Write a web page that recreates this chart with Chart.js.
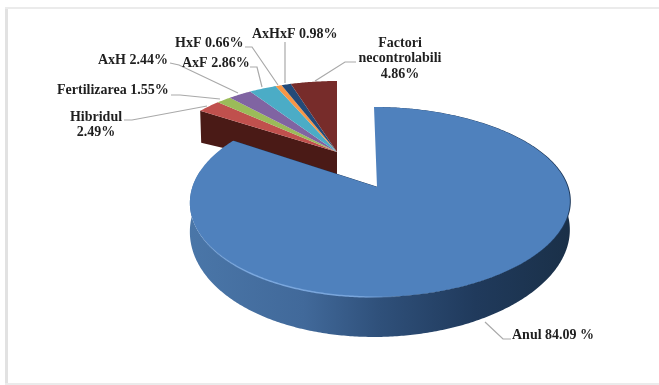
<!DOCTYPE html>
<html><head><meta charset="utf-8">
<style>
html,body{margin:0;padding:0;background:#fff;overflow:hidden}
#wrap{position:relative;width:659px;height:385px}
canvas{display:block}
</style>
<script src="https://cdn.jsdelivr.net/npm/chart.js@4"></script>
</head><body><div id="wrap"><canvas id="c" width="659" height="385"></canvas></div>
<script>
const categories = ['Anul','Hibridul','Fertilizarea','AxH','AxF','HxF','AxHxF','Factori necontrolabili'];
const values = [84.09,2.49,1.55,2.44,2.86,0.66,0.98,4.86];
const sliceColors = ['#4f81bd','#c0504d','#9bbb59','#8064a2','#4bacc6','#f79646','#234a78','#772c2a'];
const labelLines = [['Anul 84.09 %'],['Hibridul','2.49%'],['Fertilizarea 1.55%'],['AxH 2.44%'],['AxF 2.86%'],['HxF 0.66%'],['AxHxF 0.98%'],['Factori','necontrolabili','4.86%']];

// label anchors and leader polylines (annotation layout, not data)
const labelLayout = [
 {x:512,y:335,align:'left',lead:[[485,322],[503,339],[511,339]]},
 {x:96,y:117,align:'center',lead:[[207,106],[132,120],[124,120]]},
 {x:57,y:90,align:'left',lead:[[220,99],[180,95],[171,95]]},
 {x:98,y:60,align:'left',lead:[[238,93],[179,65],[170,63]]},
 {x:182,y:63,align:'left',lead:[[262,87],[257,67],[250,67]]},
 {x:175,y:43,align:'left',lead:[[278,85],[252,47],[245,47]]},
 {x:252,y:34,align:'left',lead:[[285,83],[285,42]]},
 {x:400,y:43,align:'center',lead:[[315,81],[345,62],[356,62]]}
];

// perspective of the tilted pie: apex position, horizontal and vertical spread
const K = -0.158;
const bigPie = {ax:377,ay:187,b:187.6,a:92.6,bulge:3};
const smallPie = {ax:337,ay:152,b:177,a:82.2,bulge:0};

function project(p, ang){
  const u=Math.cos(ang), v=Math.sin(ang), w=1+K*v;
  return [p.ax + p.b*u/w + p.bulge*(1-2*v*v), p.ay + p.a*v/w];
}
function arcPoints(p, s, e){
  const n=Math.max(4,Math.ceil((e-s)/0.01)), pts=[];
  for(let i=0;i<=n;i++) pts.push(project(p, s+(e-s)*i/n));
  return pts;
}
function fillPoly(ctx, pts, fill){
  ctx.beginPath();
  pts.forEach((q,i)=> i?ctx.lineTo(q[0],q[1]):ctx.moveTo(q[0],q[1]));
  ctx.closePath();
  ctx.fillStyle=fill; ctx.fill();
}

const pie3d = {
  id:'pie3d',
  beforeDatasetsDraw(chart){
    const ctx=chart.ctx, arcs=chart.getDatasetMeta(0).data;
    ctx.save();
    // frame
    ctx.fillStyle='#e2e2e2';
    ctx.fillRect(5,7,3,376);
    ctx.fillStyle='#ebebeb';
    ctx.fillRect(5,7,654,2);
    ctx.fillRect(5,383,654,2);

    // side wall of the large slice
    const big=arcs[0];
    const top=arcPoints(bigPie,big.startAngle,big.endAngle);
    const depth=q=>{const t=(q[1]-187)/110; return t>0?27+13*t:27+3*t;};
    const wall=top.filter(q=>q[1]>170);
    const g=ctx.createLinearGradient(190,0,570,0);
    g.addColorStop(0,'#4a76a8');
    g.addColorStop(0.3,'#41699a');
    g.addColorStop(0.5,'#2f507a');
    g.addColorStop(0.75,'#203a5c');
    g.addColorStop(1,'#1a3048');
    fillPoly(ctx, wall.concat(wall.slice().reverse().map(q=>[q[0],q[1]+depth(q)])), g);

    // cut wall of the small group
    const first=arcs[1];
    const corner=project(smallPie,first.startAngle);
    fillPoly(ctx,[[smallPie.ax,smallPie.ay],corner,[corner[0]+1,corner[1]+32],[smallPie.ax,smallPie.ay+23]],'#4a1a16');

    // small slice tops
    for(let i=1;i<arcs.length;i++){
      const el=arcs[i], c=el.options.backgroundColor;
      const pts=[[smallPie.ax,smallPie.ay]].concat(arcPoints(smallPie,el.startAngle,el.endAngle));
      fillPoly(ctx,pts,c);
    }
    // rim and top of the large slice
    const rim=[[bigPie.ax,bigPie.ay]].concat(top);
    fillPoly(ctx,rim.map(q=>[q[0]+1,q[1]]),'#1f3a5c');
    fillPoly(ctx,rim,big.options.backgroundColor);
    // light highlight along the front-left edge of the top
    const hl=ctx.createLinearGradient(195,0,400,0);
    hl.addColorStop(0,'rgba(125,170,225,0)');
    hl.addColorStop(0.25,'rgba(125,170,225,0.9)');
    hl.addColorStop(0.8,'rgba(125,170,225,0.9)');
    hl.addColorStop(1,'rgba(125,170,225,0)');
    ctx.strokeStyle=hl; ctx.lineWidth=1.5;
    ctx.beginPath();
    top.filter(q=>q[1]>190 && q[0]<400).forEach((q,i)=> i?ctx.lineTo(q[0],q[1]):ctx.moveTo(q[0],q[1]));
    ctx.stroke();

    // leaders and labels
    ctx.strokeStyle='#a9a9a9'; ctx.lineWidth=1.2;
    labelLayout.forEach(l=>{
      ctx.beginPath();
      l.lead.forEach((q,i)=> i?ctx.lineTo(q[0],q[1]):ctx.moveTo(q[0],q[1]));
      ctx.stroke();
    });
    ctx.fillStyle='#1f1f1f';
    ctx.font='bold 14px "Liberation Serif"';
    ctx.textBaseline='middle';
    labelLayout.forEach((l,i)=>{
      ctx.textAlign=l.align;
      labelLines[i].forEach((t,j)=>ctx.fillText(t,l.x,l.y+j*15.5));
    });
    ctx.restore();
    return false;
  }
};

new Chart(document.getElementById('c'),{
  type:'pie',
  data:{labels:categories,datasets:[{data:values,backgroundColor:sliceColors,borderWidth:0}]},
  options:{responsive:false,animation:false,events:[],
    plugins:{legend:{display:false},tooltip:{enabled:false}}},
  plugins:[pie3d]
});
</script></body></html>
